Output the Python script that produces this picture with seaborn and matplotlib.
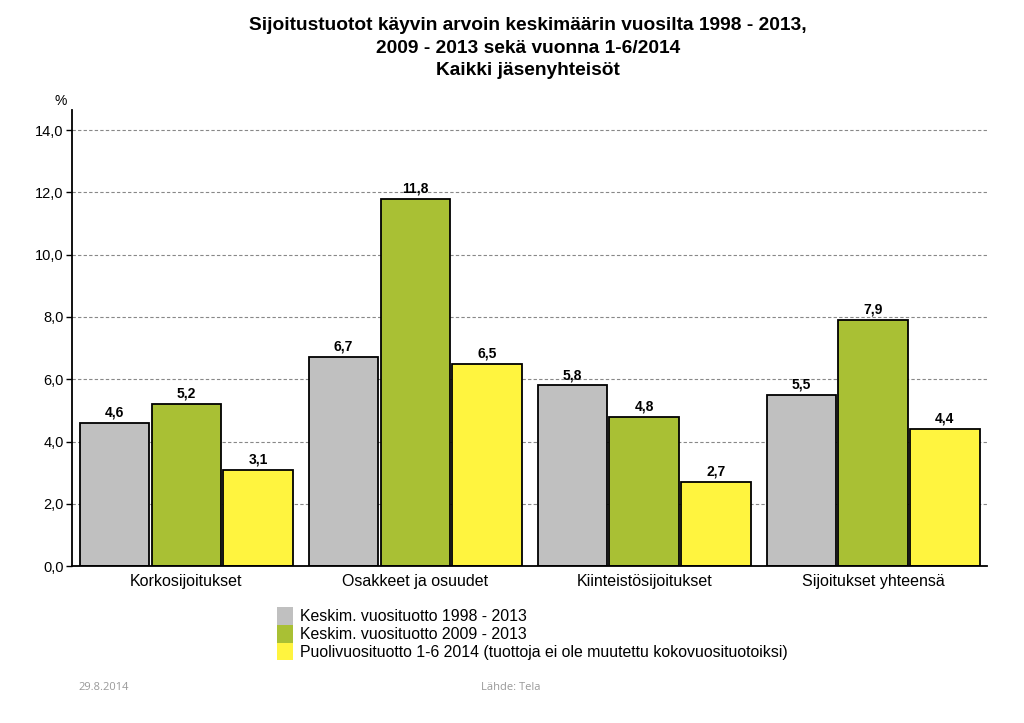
import matplotlib
matplotlib.use('Agg')
import matplotlib.pyplot as plt
import matplotlib.ticker as mticker
from matplotlib.patches import Patch
import seaborn as sns
import pandas as pd

# Data
categories = ['Korkosijoitukset', 'Osakkeet ja osuudet', 'Kiinteistösijoitukset', 'Sijoitukset yhteensä']
series = ['Keskim. vuosituotto 1998 - 2013',
          'Keskim. vuosituotto 2009 - 2013',
          'Puolivuosituotto 1-6 2014 (tuottoja ei ole muutettu kokovuosituotoiksi)']
avg_1998_2013 = [4.6, 6.7, 5.8, 5.5]
avg_2009_2013 = [5.2, 11.8, 4.8, 7.9]
half_2014 = [3.1, 6.5, 2.7, 4.4]
colors = ['#C0C0C0', '#A9C034', '#FFF43F']

title = ('Sijoitustuotot käyvin arvoin keskimäärin vuosilta 1998 - 2013,\n'
         '2009 - 2013 sekä vuonna 1-6/2014\n'
         'Kaikki jäsenyhteisöt')

rows = []
for s, vals in zip(series, [avg_1998_2013, avg_2009_2013, half_2014]):
    for c, v in zip(categories, vals):
        rows.append({'category': c, 'series': s, 'value': v})
df = pd.DataFrame(rows)

sns.set_style('white')
plt.rcParams['font.family'] = ['Liberation Sans', 'DejaVu Sans']
for key in ['text.color', 'axes.labelcolor', 'xtick.color', 'ytick.color']:
    plt.rcParams[key] = 'black'

fig = plt.figure(figsize=(10.24, 7.23), dpi=100)
ax = fig.add_axes([0.0703, 0.217, 0.894, 0.631])

sns.barplot(data=df, x='category', y='value', hue='series', order=categories,
            hue_order=series, palette=colors, saturation=1, width=0.94, gap=0.03,
            edgecolor='black', linewidth=1.3, legend=False, ax=ax)

# value labels with decimal comma
for cont in ax.containers:
    ax.bar_label(cont, labels=[f'{b.get_height():.1f}'.replace('.', ',') for b in cont],
                 padding=2.5, fontsize=10, fontweight='bold')

ax.set_xlim(-0.5, 3.5)
ax.set_ylim(0, 14.65)
ax.set_yticks([0, 2, 4, 6, 8, 10, 12, 14])
ax.yaxis.set_major_formatter(mticker.FuncFormatter(lambda v, p: f'{v:.1f}'.replace('.', ',')))
ax.yaxis.grid(True, linestyle=(0, (3, 2)), color='#888888', linewidth=0.8)
ax.set_axisbelow(True)
ax.tick_params(axis='y', left=True, length=4, width=1, labelsize=10.5, pad=2)
ax.tick_params(axis='x', bottom=False, labelsize=11.5, pad=2)
ax.set_xlabel('')
ax.set_ylabel('')
for side in ['top', 'right']:
    ax.spines[side].set_visible(False)
for side in ['left', 'bottom']:
    ax.spines[side].set_color('black')
    ax.spines[side].set_linewidth(1.3)

fig.text(0.059, 0.855, '%', fontsize=10, ha='center')
fig.text(0.5155, 0.976, title, ha='center', va='top', fontsize=13.8,
         fontweight='bold', linespacing=1.4)

handles = [Patch(facecolor=c, edgecolor='none') for c in colors]
fig.legend(handles, series, loc='upper left', bbox_to_anchor=(0.263, 0.172),
           frameon=False, fontsize=11.4, handlelength=1.0, handleheight=1.37,
           handletextpad=0.45, labelspacing=0.0, borderpad=0)

fig.text(0.077, 0.046, '29.8.2014', fontsize=8, color='#999999', family=['Open Sans', 'DejaVu Sans'])
fig.text(0.47, 0.046, 'Lähde: Tela', fontsize=8, color='#999999', family=['Open Sans', 'DejaVu Sans'])

fig.savefig('out.png', dpi=100)
